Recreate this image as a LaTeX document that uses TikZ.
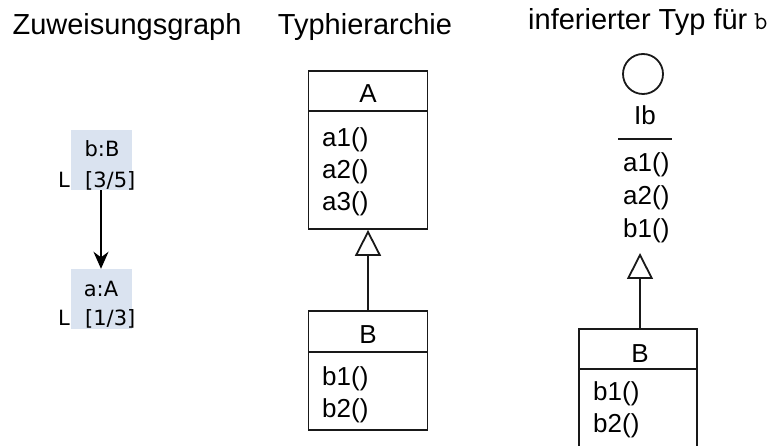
\documentclass[tikz,border=0pt]{standalone}
\usepackage{fontspec}
\setmainfont{Liberation Sans}
\newfontfamily\graphfont{DejaVu Sans}
\usetikzlibrary{arrows.meta}
\definecolor{objshade}{RGB}{218,227,240}
\definecolor{umlline}{RGB}{25,25,25}
\tikzset{
  titletext/.style={font=\fontsize{29}{30}\selectfont, anchor=base, inner sep=0pt},
  umltext/.style={font=\fontsize{26}{28}\selectfont, anchor=base west, inner sep=0pt},
  umlname/.style={font=\fontsize{26}{28}\selectfont, anchor=base, inner sep=0pt},
  objtext/.style={font=\graphfont\fontsize{21}{22}\selectfont, anchor=base, inner sep=0pt},
  objbox/.style={fill=objshade, minimum width=61pt, minimum height=60pt, inner sep=0pt},
  umlbox/.style={draw=umlline, line width=1.8pt, minimum width=119pt, inner sep=0pt},
  generalize/.style={draw=umlline, line width=1.8pt, -{Triangle[open, length=26pt, width=26pt, line width=1.8pt]}},
  assign/.style={draw=black, line width=2pt, -{Stealth[length=17pt, width=15pt]}},
}
\begin{document}
\begin{tikzpicture}[x=1pt, y=-1pt]
  \useasboundingbox (0,0) rectangle (776,446);
  \clip (0,0) rectangle (776,446);

  % column titles
  \node[titletext] (t1) at (127,35) {Zuweisungsgraph};
  \node[titletext] (t2) at (365,35) {Typhierarchie};
  \node[titletext, anchor=base west] (t3) at (528,30) {inferierter Typ für};
  \node[anchor=base west, inner sep=0pt, fill=white, font=\ttfamily\fontsize{26}{26}\selectfont] (t3b) at (754,30) {b};

  % assignment graph
  \node[objbox] (bB) at (101,160) {};
  \node[objbox] (aA) at (101,299) {};
  \node[objtext] (bBname) at (102,157) {b:B};
  \node[objtext, anchor=base west] (bBL) at (58,188) {L};
  \node[objtext, anchor=base west] (bBr) at (85,188) {[3/5]};
  \node[objtext] (aAname) at (101,297) {a:A};
  \node[objtext, anchor=base west] (aAL) at (58,325) {L};
  \node[objtext, anchor=base west] (aAr) at (85,325) {[1/3]};
  \draw[assign] (bB.south) -- (aA.north);

  % type hierarchy
  \node[umlbox, minimum height=40pt] (Ahead) at (368,91) {};
  \node[umlbox, minimum height=118pt] (Abody) at (368,170) {};
  \node[umlname] (Aname) at (368,103) {A};
  \node[umltext] (Aa1) at (322,147) {a1()};
  \node[umltext] (Aa2) at (322,179) {a2()};
  \node[umltext] (Aa3) at (322,211) {a3()};

  \node[umlbox, minimum height=41pt] (Bhead) at (368,331.5) {};
  \node[umlbox, minimum height=78pt] (Bbody) at (368,391) {};
  \node[umlname] (Bname) at (368,343) {B};
  \node[umltext] (Bb1) at (322,385) {b1()};
  \node[umltext] (Bb2) at (322,417) {b2()};
  \draw[generalize] (Bhead.north) -- (Abody.south);

  % inferred type
  \node[draw=umlline, line width=1.8pt, circle, minimum size=40pt, inner sep=0pt] (Ib) at (643,74) {};
  \node[umlname] (Ibname) at (645,125) {Ib};
  \coordinate (sepL) at (618,139);
  \coordinate (sepR) at (672,139);
  \draw[umlline, line width=1.8pt] (sepL) -- (sepR);
  \node[umltext] (Iba1) at (623,172) {a1()};
  \node[umltext] (Iba2) at (623,205) {a2()};
  \node[umltext] (Ibb1) at (623,238) {b1()};
  \coordinate (Ibbottom) at (640,253);

  \node[umlbox, minimum width=118pt, minimum height=40pt] (Chead) at (638,349) {};
  \node[umlbox, minimum width=118pt, minimum height=90pt] (Cbody) at (638,414) {};
  \node[umlname] (Cname) at (640,362) {B};
  \node[umltext] (Cb1) at (593,400) {b1()};
  \node[umltext] (Cb2) at (593,432) {b2()};
  \draw[generalize] (Chead.north -| Ibbottom) -- (Ibbottom);
\end{tikzpicture}
\end{document}
